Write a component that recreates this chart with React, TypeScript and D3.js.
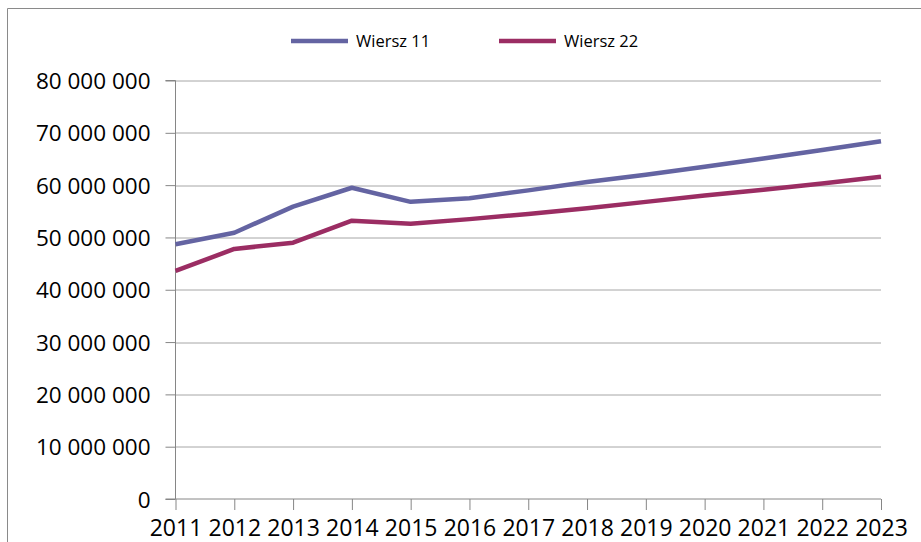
import { useEffect, useRef } from "react";
import * as d3 from "d3";

// Données
const years = ["2011", "2012", "2013", "2014", "2015", "2016", "2017", "2018", "2019", "2020", "2021", "2022", "2023"];
const wiersz11 = [48.7, 50.9, 55.9, 59.5, 56.8, 57.5, 59.0, 60.6, 62.0, 63.5, 65.1, 66.7, 68.4].map((v) => v * 1e6);
const wiersz22 = [43.6, 47.8, 49.0, 53.2, 52.6, 53.5, 54.5, 55.6, 56.8, 58.0, 59.1, 60.3, 61.6].map((v) => v * 1e6);
const yTicks = [0, 10e6, 20e6, 30e6, 40e6, 50e6, 60e6, 70e6, 80e6];

const series = [
  { name: "Wiersz 11", values: wiersz11, color: "#6464a2" },
  { name: "Wiersz 22", values: wiersz22, color: "#9b2d63" },
];

const W = 921;
const H = 542;
const FONT = "'Open Sans', 'Noto Sans', sans-serif";

export default function App() {
  const svgRef = useRef<SVGSVGElement>(null);

  useEffect(() => {
    if (!svgRef.current) return;
    const svg = d3.select(svgRef.current);
    svg.selectAll("*").remove();

    const margin = { top: 80.5, right: 40, bottom: 43, left: 175.5 };
    const innerW = W - margin.left - margin.right;
    const innerH = H - margin.top - margin.bottom;

    // Cadre
    svg
      .append("path")
      .attr("d", `M7.5,${H} L7.5,8.5 L${W},8.5`)
      .attr("fill", "none")
      .attr("stroke", "#8a8a8a")
      .attr("stroke-width", 1);

    const x = d3.scalePoint<string>().domain(years).range([0, innerW]);
    const y = d3.scaleLinear().domain([0, 80e6]).range([innerH, 0]);

    const g = svg.append("g").attr("transform", `translate(${margin.left},${margin.top})`);

    // Grille horizontale
    g.append("g")
      .selectAll("line")
      .data(yTicks.filter((t) => t > 0))
      .enter()
      .append("line")
      .attr("x1", 0)
      .attr("x2", innerW)
      .attr("y1", (d) => Math.round(y(d)) + 0.5)
      .attr("y2", (d) => Math.round(y(d)) + 0.5)
      .attr("stroke", "#a6a6a6")
      .attr("stroke-width", 1);

    // Axe Y
    const yAxis = g
      .append("g")
      .call(
        d3
          .axisLeft(y)
          .tickValues(yTicks)
          .tickSize(10)
          .tickPadding(15)
          .tickFormat((d) => d3.format(",")(d as number).replace(/,/g, " "))
      );
    yAxis.select(".domain").attr("stroke", "#868686").attr("d", `M-10,${innerH}H0V0H-10`);
    yAxis.selectAll(".tick line").attr("stroke", "#868686");
    yAxis
      .selectAll("text")
      .style("font-family", FONT)
      .style("font-size", "22.5px")
      .attr("fill", "#000")
      .attr("dy", "0.36em");

    // Axe X
    const xAxis = g
      .append("g")
      .attr("transform", `translate(0,${innerH})`)
      .call(d3.axisBottom(x).tickSize(11).tickPadding(10));
    xAxis.select(".domain").attr("stroke", "#868686").attr("d", `M0,0H${innerW}`);
    xAxis.selectAll(".tick line").attr("stroke", "#868686");
    xAxis
      .selectAll("text")
      .style("font-family", FONT)
      .style("font-size", "23px")
      .attr("fill", "#000");

    // Lignes
    const line = d3
      .line<number>()
      .x((_, i) => x(years[i]) || 0)
      .y((d) => y(d));

    series.forEach((s) => {
      g.append("path")
        .datum(s.values)
        .attr("fill", "none")
        .attr("stroke", s.color)
        .attr("stroke-width", 4.5)
        .attr("stroke-linejoin", "round")
        .attr("d", line);
    });

    // Légende
    const legendX = [291, 499];
    series.forEach((s, i) => {
      const lg = svg.append("g").attr("transform", `translate(${legendX[i]},41)`);
      lg.append("line")
        .attr("x1", 0)
        .attr("x2", 57)
        .attr("y1", 0)
        .attr("y2", 0)
        .attr("stroke", s.color)
        .attr("stroke-width", 4.5);
      lg.append("text")
        .attr("x", 65)
        .attr("y", 0)
        .attr("dy", "0.36em")
        .style("font-family", FONT)
        .style("font-size", "16.5px")
        .attr("fill", "#000")
        .text(s.name);
    });
  }, []);

  return (
    <svg
      ref={svgRef}
      width={W}
      height={H}
      style={{ position: "absolute", left: 0, top: 0, background: "#fff" }}
    />
  );
}
